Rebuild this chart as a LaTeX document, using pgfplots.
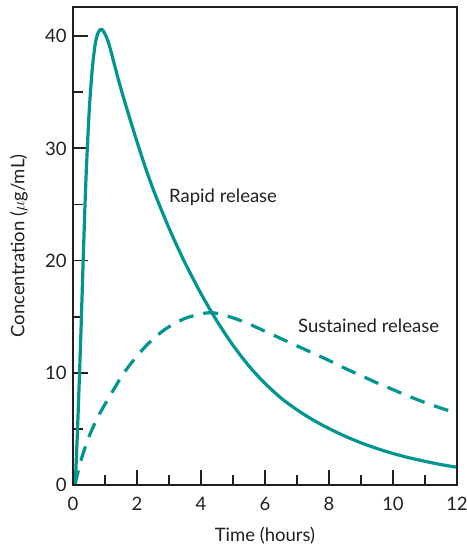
\documentclass[border=0pt]{standalone}
\usepackage{fontspec}
\setmainfont{Lato}
\usepackage{pgfplots}
\pgfplotsset{compat=1.18}
\definecolor{teal1}{RGB}{0,150,143}
\definecolor{ink}{RGB}{35,31,32}
\begin{document}
\fontsize{18.5}{22}\selectfont
\begin{tikzpicture}
\begin{axis}[
  name=ax,
  scale only axis,
  width=384pt, height=478pt,
  xmin=0, xmax=12, ymin=0, ymax=42.6,
  xtick={0,2,...,12}, minor x tick num=1,
  ytick={0,10,...,40}, minor y tick num=1,
  tick pos=left, tick align=inside,
  major tick length=15pt, minor tick length=10pt,
  axis line style={ink, line width=2pt},
  every tick/.style={ink, line width=1.8pt},
  ticklabel style={ink, font=\fontsize{18.5}{22}\selectfont},
  xticklabel style={yshift=-6pt},
  /pgf/number format/assume math mode=true,
  xlabel={Time (hours)},
  ylabel={Concentration ($\mu$g/mL)},
  xlabel shift=4pt, ylabel shift=5pt,
  label style={ink, font=\fontsize{18.5}{22}\selectfont},
  clip=true,
]
\addplot[teal1, line width=3.2pt, smooth, tension=0.5] coordinates {
 (0.07,0) (0.15,5.6) (0.25,13.8) (0.32,20.2) (0.40,26.9) (0.5,33.0) (0.6,37.0)
 (0.7,39.4) (0.8,40.4) (0.9,40.6) (1.0,40.2) (1.1,39.5) (1.2,38.5) (1.3,37.4)
 (1.5,35.3) (1.75,32.9) (2.0,30.6) (2.25,28.4) (2.5,26.4) (2.75,24.6)
 (3.0,22.9) (3.25,21.3) (3.5,19.8) (3.75,18.4) (4.0,17.05) (4.25,15.8)
 (4.5,14.6) (4.75,13.5) (5.0,12.45) (5.25,11.5) (5.5,10.6) (5.75,9.8)
 (6.0,9.05) (6.5,7.75) (7.0,6.7) (7.5,5.8) (8.0,5.03) (8.5,4.35) (9.0,3.76)
 (9.5,3.25) (10.0,2.81) (10.5,2.43) (11.0,2.11) (11.5,1.82) (12.0,1.58)
};
\addplot[teal1, line width=3.2pt, smooth, tension=0.5, dash pattern=on 15pt off 10pt] coordinates {
 (0.06,0) (0.25,2.2) (0.5,4.3) (0.75,5.9) (1.0,7.2) (1.25,8.4) (1.5,9.6)
 (1.75,10.6) (2.0,11.5) (2.25,12.3) (2.5,13.0) (2.75,13.6) (3.0,14.1)
 (3.5,14.85) (4.0,15.25) (4.25,15.35) (4.5,15.3) (5.0,14.9) (5.5,14.35)
 (6.0,13.7) (6.5,13.05) (7.0,12.4) (7.5,11.75) (8.0,11.1) (8.5,10.4)
 (9.0,9.75) (9.5,9.1) (10.0,8.5) (10.5,7.9) (11.0,7.35) (11.5,6.85) (12.0,6.4)
};
\node[anchor=west, ink, inner sep=0pt] at (axis cs:3.0,25.6) {Rapid release};
\node[anchor=west, ink, inner sep=0pt] at (axis cs:7.03,14.2) {Sustained release};
\end{axis}
\draw[ink, line width=2pt] (ax.south west) rectangle (ax.north east);
\pgfresetboundingbox
\path[use as bounding box] ([xshift=-73pt,yshift=-60pt]ax.south west) rectangle ([xshift=10pt,yshift=7pt]ax.north east);
\end{tikzpicture}
\end{document}
